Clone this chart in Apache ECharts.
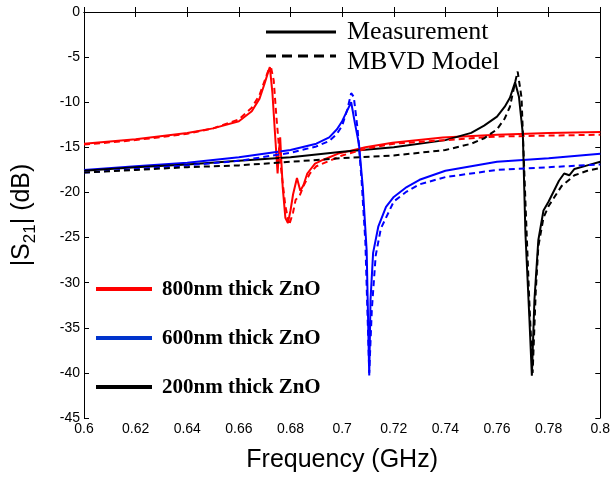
<!DOCTYPE html>
<html>
<head>
<meta charset="utf-8">
<script src="https://cdn.jsdelivr.net/npm/echarts@6/dist/echarts.min.js"></script>
<style>html,body{margin:0;padding:0;background:#fff}#c{width:613px;height:478px}</style>
</head>
<body>
<div id="c"></div>
<script>
// Frequency (GHz) and |S21| (dB)
const redMeasF = [0.6,0.62,0.64,0.65,0.66,0.665,0.668,0.67,0.6715,0.672,0.673,0.674,0.675,0.6755,0.676,0.6765,0.677,0.678,0.679,0.68,0.681,0.6825,0.6838,0.685,0.6865,0.6895,0.6925,0.6985,0.709,0.7195,0.739,0.76,0.78,0.8];
const redMeasY = [-14.6,-14.1,-13.4,-12.9,-12.1,-11.0,-9.6,-7.9,-6.5,-6.1,-9.0,-13.5,-17.9,-15.5,-13.9,-16.8,-19.5,-22.8,-23.4,-22.0,-20.2,-18.4,-19.8,-19.2,-17.9,-16.8,-16.4,-15.7,-15.0,-14.5,-13.9,-13.6,-13.4,-13.3];
const redModF = [0.6,0.62,0.64,0.65,0.66,0.665,0.668,0.67,0.6715,0.6725,0.6735,0.6745,0.676,0.678,0.6795,0.681,0.682,0.6835,0.685,0.6875,0.69,0.70,0.71,0.72,0.74,0.76,0.78,0.8];
const redModY = [-14.7,-14.2,-13.5,-12.9,-11.9,-10.6,-9.2,-7.6,-6.4,-6.2,-7.6,-11.5,-16.5,-21.5,-23.6,-22.2,-20.8,-20.4,-19.3,-17.9,-17.1,-15.9,-15.1,-14.6,-14.2,-13.8,-13.7,-13.6];
const blueMeasF = [0.6,0.62,0.64,0.66,0.68,0.69,0.695,0.698,0.70,0.702,0.7035,0.705,0.7065,0.708,0.7095,0.7105,0.711,0.712,0.714,0.717,0.72,0.725,0.73,0.74,0.76,0.78,0.8];
const blueMeasY = [-17.5,-17.1,-16.7,-16.1,-15.3,-14.6,-13.9,-13.0,-12.1,-10.9,-10.0,-12.4,-14.6,-19.4,-26.4,-40.3,-31.9,-26.7,-23.8,-21.6,-20.5,-19.4,-18.6,-17.6,-16.6,-16.2,-15.7];
const blueModF = [0.6,0.62,0.64,0.66,0.68,0.69,0.695,0.698,0.70,0.702,0.7035,0.7045,0.706,0.7075,0.709,0.7105,0.7115,0.713,0.715,0.718,0.72,0.725,0.73,0.74,0.76,0.78,0.8];
const blueModY = [-17.8,-17.4,-17.0,-16.5,-15.6,-14.9,-14.3,-13.5,-12.6,-10.8,-9.0,-9.4,-13.0,-18.5,-25.5,-40.0,-33.0,-27.0,-24.0,-22.2,-21.0,-19.9,-19.1,-18.3,-17.5,-17.2,-16.9];
const blackMeasF = [0.6,0.62,0.64,0.66,0.68,0.70,0.72,0.74,0.75,0.755,0.76,0.763,0.765,0.767,0.7685,0.770,0.771,0.7725,0.7735,0.7745,0.776,0.778,0.78,0.784,0.786,0.788,0.79,0.795,0.8];
const blackMeasY = [-17.6,-17.2,-16.9,-16.5,-16.1,-15.5,-15.0,-14.2,-13.4,-12.6,-11.6,-10.5,-9.5,-7.8,-9.4,-13.5,-24.5,-33.7,-40.3,-31.9,-25.3,-22.0,-21.0,-18.7,-17.9,-18.1,-17.4,-17.0,-16.6];
const blackModF = [0.6,0.62,0.64,0.66,0.68,0.70,0.72,0.74,0.75,0.755,0.76,0.763,0.765,0.767,0.768,0.7695,0.771,0.7725,0.7738,0.775,0.776,0.778,0.78,0.785,0.79,0.795,0.8];
const blackModY = [-17.8,-17.5,-17.2,-17.0,-16.6,-16.2,-15.9,-15.3,-14.6,-14.0,-13.0,-11.8,-10.5,-7.8,-6.6,-9.5,-21.0,-32.0,-40.0,-31.0,-26.0,-22.8,-21.5,-19.3,-18.1,-17.6,-17.3];
const xTicks = [0.6,0.62,0.64,0.66,0.68,0.7,0.72,0.74,0.76,0.78,0.8];
const yTicks = [0,-5,-10,-15,-20,-25,-30,-35,-40,-45];
const seriesNames = ['800nm thick ZnO','600nm thick ZnO','200nm thick ZnO'];
const styleNames = ['Measurement','MBVD Model'];

const zip = (a,b) => a.map((v,i)=>[v,b[i]]);
const chart = echarts.init(document.getElementById('c'), null, {renderer:'canvas'});
const fmtX = v => { const t = xTicks.find(x=>Math.abs(x-v)<1e-9); return t===undefined?'':String(t); };
const mk = (name, f, y, color, dashed) => ({
  name, type:'line', data: zip(f,y), showSymbol:false, smooth:false,
  lineStyle:{color, width:2, type: dashed?[6,4]:'solid'}, itemStyle:{color},
  animation:false, z: dashed?3:2
});
const axisCommon = {
  axisLine:{show:true, lineStyle:{color:'#000', width:1}},
  axisTick:{show:true, inside:true, length:5, lineStyle:{color:'#000'}},
  splitLine:{show:false}
};
const SANS = 'Liberation Sans, Arial';
const SERIF = '"Liberation Serif", "Times New Roman"';
chart.setOption({
  animation:false,
  grid:{left:84, right:9, top:12, bottom:60},
  xAxis:[
    Object.assign({type:'value', min:0.6, max:0.8, interval:0.02, position:'bottom',
      axisLabel:{color:'#000', fontFamily:SANS, fontSize:14, margin:4, formatter:fmtX, showMaxLabel:true},
      name:'Frequency (GHz)', nameLocation:'middle', nameGap:30,
      nameTextStyle:{color:'#000', fontFamily:SANS, fontSize:25}}, axisCommon),
    Object.assign({type:'value', min:0.6, max:0.8, interval:0.02, position:'top', axisLabel:{show:false}}, axisCommon)
  ],
  yAxis:[
    Object.assign({type:'value', min:-45, max:0, interval:5, position:'left',
      axisLabel:{color:'#000', fontFamily:SANS, fontSize:14, margin:4},
      name:'{m||S}{s|21}{m|| (dB)}', nameLocation:'middle', nameGap:44,
      nameTextStyle:{color:'#000', fontFamily:SANS, fontSize:25,
        rich:{
          m:{fontSize:25, fontFamily:SANS, color:'#000', verticalAlign:'top', lineHeight:30},
          s:{fontSize:17, fontFamily:SANS, color:'#000', verticalAlign:'top', padding:[12,0,0,0], lineHeight:30}
        }}}, axisCommon),
    Object.assign({type:'value', min:-45, max:0, interval:5, position:'right', axisLabel:{show:false}}, axisCommon)
  ],
  series:[
    mk(seriesNames[0]+' meas', redMeasF, redMeasY, '#ff0000', false),
    mk(seriesNames[0]+' model', redModF, redModY, '#ff0000', true),
    mk(seriesNames[1]+' meas', blueMeasF, blueMeasY, '#0000ff', false),
    mk(seriesNames[1]+' model', blueModF, blueModY, '#0000ff', true),
    mk(seriesNames[2]+' meas', blackMeasF, blackMeasY, '#000000', false),
    mk(seriesNames[2]+' model', blackModF, blackModY, '#000000', true)
  ],
  graphic:[
    {type:'line', shape:{x1:266,y1:32,x2:336,y2:32}, style:{stroke:'#000', lineWidth:3}},
    {type:'text', x:347, y:32, style:{text:styleNames[0], font:'26px '+SERIF, fill:'#000', verticalAlign:'middle'}},
    {type:'line', shape:{x1:266,y1:56,x2:336,y2:56}, style:{stroke:'#000', lineWidth:3, lineDash:[10,6]}},
    {type:'text', x:347, y:62, style:{text:styleNames[1], font:'26px '+SERIF, fill:'#000', verticalAlign:'middle'}},
    {type:'line', shape:{x1:96,y1:289,x2:152,y2:289}, style:{stroke:'#ff0000', lineWidth:4}},
    {type:'text', x:162, y:290, style:{text:seriesNames[0], font:'bold 21px '+SERIF, fill:'#000', verticalAlign:'middle'}},
    {type:'line', shape:{x1:96,y1:338,x2:152,y2:338}, style:{stroke:'#0033cc', lineWidth:4}},
    {type:'text', x:162, y:339, style:{text:seriesNames[1], font:'bold 21px '+SERIF, fill:'#000', verticalAlign:'middle'}},
    {type:'line', shape:{x1:96,y1:387,x2:152,y2:387}, style:{stroke:'#000', lineWidth:4}},
    {type:'text', x:162, y:388, style:{text:seriesNames[2], font:'bold 21px '+SERIF, fill:'#000', verticalAlign:'middle'}}
  ]
});
</script>
</body>
</html>
